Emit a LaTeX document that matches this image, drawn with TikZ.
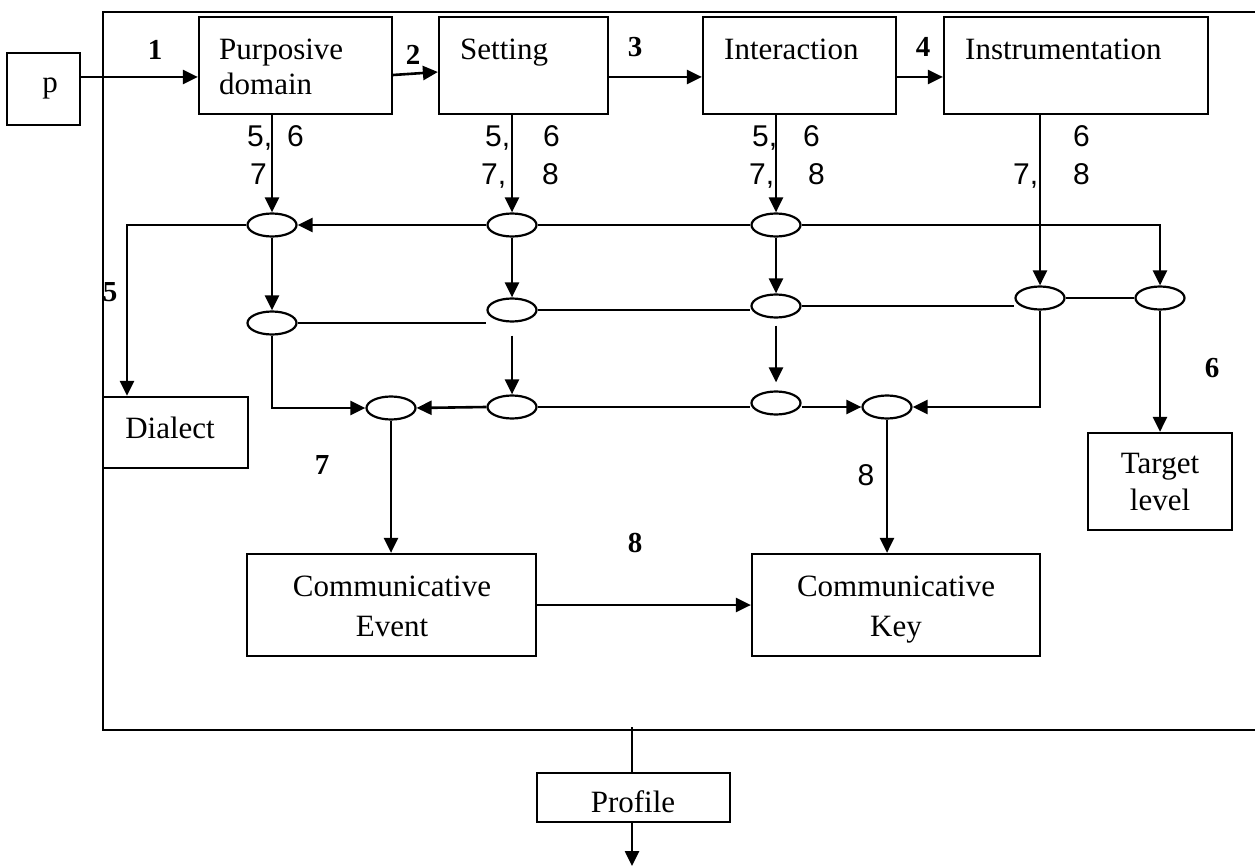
\documentclass[tikz,border=0pt]{standalone}
\usepackage{fontspec}
\setmainfont{Liberation Serif}
\newfontfamily\numfont{Liberation Sans}
\usetikzlibrary{arrows.meta,shapes.geometric,calc}
\begin{document}
\begin{tikzpicture}[x=1pt,y=-1pt,
  box/.style={draw, line width=2.2pt, rectangle, inner sep=0pt},
  ell/.style={draw, ellipse, line width=2.2pt, minimum width=49pt, minimum height=23pt, inner sep=0pt},
  arr/.style={line width=2.6pt, -{Triangle[length=15pt,width=14pt]}},
  ln/.style={line width=2.2pt},
  txt/.style={font=\fontsize{31}{35}\selectfont, inner sep=0pt},
  bnum/.style={font=\fontsize{29}{30}\selectfont\bfseries, inner sep=0pt},
  num/.style={font=\numfont\fontsize{30}{32}\selectfont, inner sep=0pt}]
\useasboundingbox (0,0) rectangle (1255,866);

% frame
\draw[ln] (1255,12) -- (103,12) -- (103,730) -- (1255,730);
\coordinate (fb) at (632,727);
\coordinate (out) at (632,866);

% boxes
\node[box, minimum width=73pt, minimum height=72pt] (p) at (43.5,89) {};
\node[box, minimum width=193pt, minimum height=97pt] (pd) at (295.5,65.5) {};
\node[box, minimum width=169pt, minimum height=97pt] (set) at (523.5,65.5) {};
\node[box, minimum width=193pt, minimum height=97pt] (int) at (799.5,65.5) {};
\node[box, minimum width=264pt, minimum height=97pt] (ins) at (1076,65.5) {};
\node[box, minimum width=145pt, minimum height=71pt] (dia) at (175.5,432.5) {};
\node[box, minimum width=144pt, minimum height=97pt] (tgt) at (1160,481.5) {};
\node[box, minimum width=289pt, minimum height=102pt] (cev) at (391.5,605) {};
\node[box, minimum width=288pt, minimum height=102pt] (ckey) at (896,605) {};
\node[box, minimum width=193pt, minimum height=49pt] (prof) at (633.5,797.5) {};

% box texts
\node[txt, anchor=base] (tp) at (50,93) {p};
\node[txt, anchor=base west] (tpd1) at (219,60) {Purposive};
\node[txt, anchor=base west] (tpd2) at (219,95) {domain};
\node[txt, anchor=base west] (tset) at (460,60) {Setting};
\node[txt, anchor=base west] (tint) at (724,60) {Interaction};
\node[txt, anchor=base west] (tins) at (965,60) {Instrumentation};
\node[txt, anchor=base] (tdia) at (170,438) {Dialect};
\node[txt, anchor=base] (ttg1) at (1160,473) {Target};
\node[txt, anchor=base] (ttg2) at (1160,510) {level};
\node[txt, anchor=base] (tce1) at (392,596) {Communicative};
\node[txt, anchor=base] (tce2) at (392,636) {Event};
\node[txt, anchor=base] (tck1) at (896,596) {Communicative};
\node[txt, anchor=base] (tck2) at (896,636) {Key};
\node[txt, anchor=base] (tpr) at (633,812) {Profile};

% ellipses
\node[ell] (e11) at (272,225) {};
\node[ell] (e12) at (512,225) {};
\node[ell] (e13) at (776,225) {};
\node[ell] (e21) at (272,323) {};
\node[ell] (e22) at (512,310) {};
\node[ell] (e23) at (776,306) {};
\node[ell] (e24) at (1040,298) {};
\node[ell] (e25) at (1160,298) {};
\node[ell] (e31) at (391,408) {};
\node[ell] (e32) at (512,407) {};
\node[ell] (e33) at (776,403) {};
\node[ell] (e34) at (887,407) {};

% top chain
\draw[arr] (p.east |- 0,77) -- (pd.west |- 0,77);
\draw[arr] (pd.east |- 0,75) -- (set.west |- 0,72);
\draw[arr] (set.east |- 0,77) -- (int.west |- 0,77);
\draw[arr] (int.east |- 0,77) -- (ins.west |- 0,77);

% boxes to first row
\draw[arr] (e11.north |- pd.south) -- (e11.north);
\draw[arr] (e12.north |- set.south) -- (e12.north);
\draw[arr] (e13.north |- int.south) -- (e13.north);
\draw[arr] (e24.north |- ins.south) -- (e24.north);

% row 1
\draw[arr] (e11.west) -| (dia.north -| 127,0);
\draw[arr] (e12.west) -- (e11.east);
\draw[ln] (e12.east) -- (e13.west);
\draw[arr] (e13.east) -| (e25.north);

% row 1 -> row 2
\draw[arr] (e11.south) -- (e21.north);
\draw[arr] (e12.south) -- (e22.north);
\draw[arr] (e13.south) -- (e23.north);

% row 2
\draw[ln] (e21.east) -- (e22.west |- e21.east);
\draw[ln] (e22.east) -- (e23.west |- e22.east);
\draw[ln] (e23.east) -- (e24.west |- e23.east);
\draw[ln] (e24.east) -- (e25.west);
\draw[arr] (e25.south) -- (tgt.north);
\draw[arr] (e24.south) |- (e34.east);

% row 2 -> row 3
\draw[arr] (e21.south) |- (e31.west);
\draw[arr] ([yshift=-13pt]e22.south) -- (e32.north);
\draw[arr, shorten >=8pt] ([yshift=-7pt]e23.south) -- (e33.north);

% row 3
\draw[arr] (e32.west) -- (e31.east);
\draw[ln] (e32.east) -- (e33.west |- e32.east);
\draw[arr] (e33.east |- e34.west) -- (e34.west);

% to bottom boxes
\draw[arr] (e31.south) -- (e31.south |- cev.north);
\draw[arr] (e34.south) -- (e34.south |- ckey.north);
\draw[arr] (cev.east) -- (ckey.west);

% profile
\draw[ln] (fb) -- (prof.north -| fb);
\draw[arr] (prof.south -| out) -- (out);

% bold labels
\node[bnum] (l1) at (155,50) {1};
\node[bnum] (l2) at (413,55) {2};
\node[bnum] (l3) at (635,47) {3};
\node[bnum] (l4) at (923,47) {4};
\node[bnum] (l5) at (110,292) {5};
\node[bnum] (l7) at (322,465) {7};
\node[bnum] (l8) at (635,543) {8};
\node[bnum] (l6) at (1212,368) {6};

% numeric labels
\node[num, anchor=base west] (a1) at (247,147) {5,};
\node[num, anchor=base west] (a2) at (287,147) {6};
\node[num, anchor=base west] (a3) at (250,185) {7};
\node[num, anchor=base west] (b1) at (485,147) {5,};
\node[num, anchor=base west] (b2) at (543,147) {6};
\node[num, anchor=base west] (b3) at (481,185) {7,};
\node[num, anchor=base west] (b4) at (542,185) {8};
\node[num, anchor=base west] (c1) at (752,147) {5,};
\node[num, anchor=base west] (c2) at (803,147) {6};
\node[num, anchor=base west] (c3) at (749,185) {7,};
\node[num, anchor=base west] (c4) at (808,185) {8};
\node[num, anchor=base west] (d2) at (1073,147) {6};
\node[num, anchor=base west] (d3) at (1013,185) {7,};
\node[num, anchor=base west] (d4) at (1073,185) {8};
\node[num] (k8) at (866,475) {8};
\end{tikzpicture}
\end{document}
